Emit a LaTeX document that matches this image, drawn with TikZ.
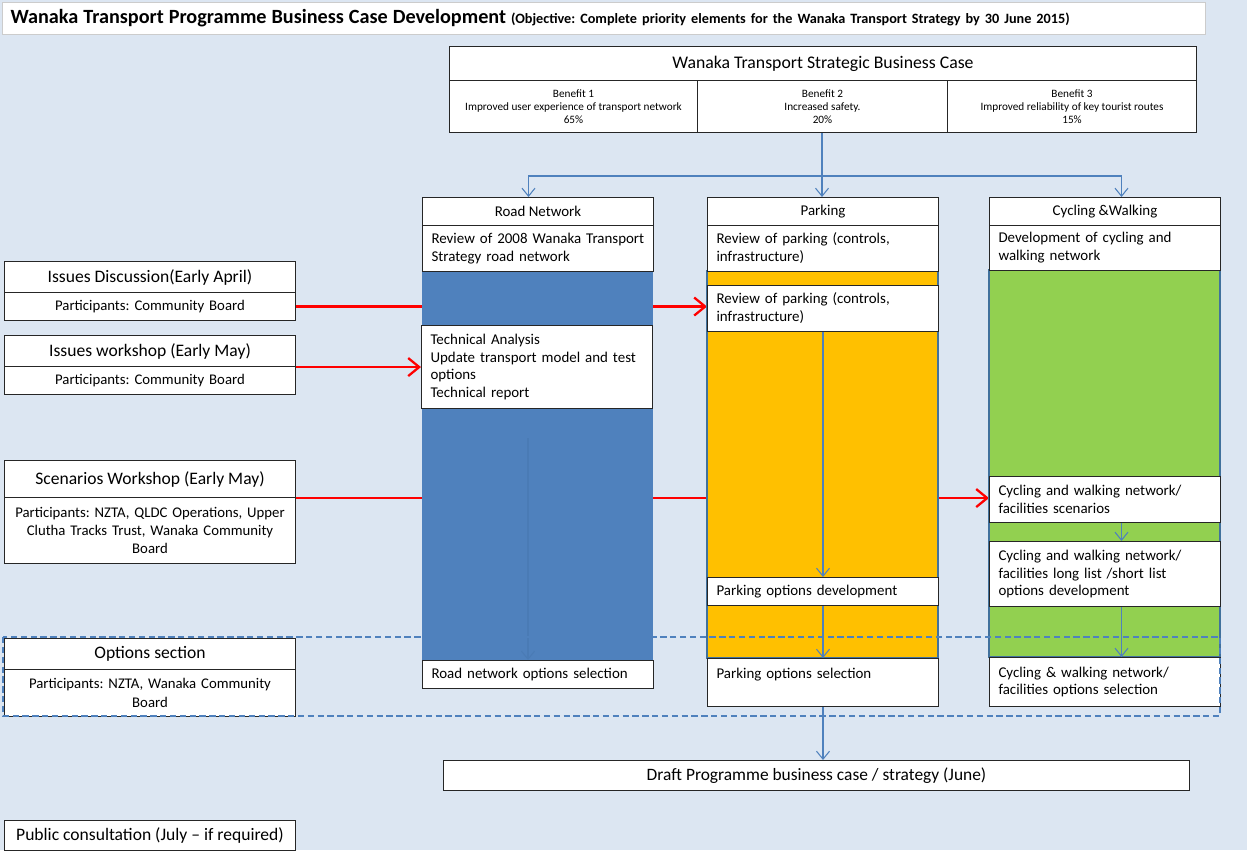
\documentclass[tikz,border=0pt]{standalone}
\usepackage{fontspec}
\setmainfont{Carlito}
\usetikzlibrary{arrows.meta}
\definecolor{bgblue}{HTML}{DCE6F2}
\definecolor{colblue}{HTML}{4F81BD}
\definecolor{colorange}{HTML}{FFC000}
\definecolor{colgreen}{HTML}{92D050}
\definecolor{coledge}{HTML}{41719C}
\definecolor{faintblue}{HTML}{4A7BB5}
\pgfdeclarelayer{back}
\pgfdeclarelayer{mid}
\pgfsetlayers{back,mid,main}
\frenchspacing

\begin{document}
\begin{tikzpicture}[
  x=0.02cm, y=-0.02cm,
  cell/.style={draw=black!85, line width=0.6pt, fill=white, anchor=north west,
               inner sep=0pt, align=center, font=\fontsize{8.5}{10.2}\selectfont},
  sidehead/.style={cell, minimum width=5.82cm, minimum height=0.62cm,
               font=\fontsize{10}{12}\selectfont},
  sidepart/.style={cell, minimum width=5.82cm, text width=5.6cm,
               font=\fontsize{8.4}{10.4}\selectfont},
  colhead/.style={cell, minimum width=4.62cm, minimum height=0.56cm},
  coltext/.style={cell, inner xsep=0.18cm, text width=4.26cm, align=left},
  benefit/.style={cell, minimum height=1.04cm, font=\fontsize{6.4}{7.4}\selectfont},
  colfill/.style={draw=coledge, line width=0.8pt},
  link/.style={draw=colblue, line width=0.6pt, -{Straight Barb[length=1.6mm, width=2.6mm]}},
  feed/.style={draw=red, line width=1.3pt, -{Straight Barb[length=2.2mm, width=3.6mm]}}
 ]
\useasboundingbox (0,0) rectangle (1247,850);
\begin{pgfonlayer}{back}
\fill[bgblue] (0,0) rectangle (1247,850);
\end{pgfonlayer}

% title
\node[cell, draw=black!20, minimum width=24.06cm, minimum height=0.64cm, inner xsep=0.16cm,
      text width=23.74cm, align=left] (titlebar) at (2,2)
  {\fontsize{11.5}{13}\selectfont\textbf{Wanaka Transport Programme Business Case Development}
   {\fontsize{8.1}{9}\selectfont\textbf{(Objective: Complete priority elements for the Wanaka Transport Strategy by 30 June 2015)}}};

% strategic business case
\node[cell, minimum width=14.94cm, minimum height=0.68cm, font=\fontsize{10.1}{12}\selectfont]
  (sbc) at (449,46) {Wanaka Transport Strategic Business Case};
\node[benefit, minimum width=4.96cm] (ben1) at (449,80)
  {Benefit 1\\Improved user experience of transport network\\65\%};
\node[benefit, minimum width=5.0cm] (ben2) at (697,80)
  {Benefit 2\\Increased safety.\\20\%};
\node[benefit, minimum width=4.98cm] (ben3) at (947,80)
  {Benefit 3\\Improved reliability of key tourist routes\\15\%};

% column fills
\begin{pgfonlayer}{mid}
\fill[colblue] (422,271) rectangle (653,660);
\filldraw[colfill, fill=colorange] (707,271) rectangle (938,658);
\filldraw[colfill, fill=colgreen] (989,270) rectangle (1220,657);
\end{pgfonlayer}

% road network
\node[colhead] (rnhead) at (422,197) {Road Network};
\node[coltext, minimum height=0.92cm] (rnrev) at (422,225)
  {Review of 2008 Wanaka Transport\\Strategy road network};
\node[coltext, minimum height=1.66cm] (tech) at (421,325)
  {Technical Analysis\\Update transport model and test\\options\\Technical report};
\node[coltext, minimum height=0.56cm] (rnsel) at (422,660) {Road network options selection};

% parking
\node[colhead] (pkhead) at (707,197) {Parking};
\node[coltext, minimum height=0.92cm] (pkrev) at (707,225)
  {Review of parking (controls,\\infrastructure)};
\node[coltext, minimum height=0.92cm] (pkrev2) at (707,285)
  {Review of parking (controls,\\infrastructure)};
\node[coltext, minimum height=0.56cm] (pkdev) at (707,577) {Parking options development};
\node[coltext, minimum height=0.96cm] (pksel) at (707,658) {Parking options selection\\\mbox{}};

% cycling and walking
\node[colhead] (cwhead) at (989,197) {Cycling \&Walking};
\node[coltext, minimum height=0.9cm] (cwdev) at (989,225)
  {Development of cycling and\\walking network};
\node[coltext, minimum height=0.92cm] (cwscen) at (989,476)
  {Cycling and walking network/\\facilities scenarios};
\node[coltext, minimum height=1.3cm] (cwlong) at (989,541)
  {Cycling and walking network/\\facilities long list /short list\\options development};
\node[coltext, minimum height=0.98cm] (cwsel) at (989,657)
  {Cycling \& walking network/\\facilities options selection};

% participants
\node[sidehead] (iss1h) at (4,261) {Issues Discussion(Early April)};
\node[sidepart, minimum height=0.56cm] (iss1p) at (4,292) {Participants: Community Board};
\node[sidehead] (iss2h) at (4,335) {Issues workshop (Early May)};
\node[sidepart, minimum height=0.56cm] (iss2p) at (4,366) {Participants: Community Board};
\node[sidehead, minimum height=0.74cm] (scnh) at (4,460) {Scenarios Workshop (Early May)};
\node[sidepart, minimum height=1.32cm] (scnp) at (4,497)
  {Participants: NZTA, QLDC Operations, Upper\\Clutha Tracks Trust, Wanaka Community\\Board};
\node[sidehead] (opth) at (4,638) {Options section};
\node[sidepart, minimum height=0.94cm] (optp) at (4,669)
  {Participants: NZTA, Wanaka Community\\Board};
\node[sidehead, minimum height=0.6cm] (pub) at (4,820) {Public consultation (July -- if required)};

% draft
\node[cell, minimum width=14.92cm, minimum height=0.6cm, font=\fontsize{9.9}{11.5}\selectfont]
  (draft) at (443,760) {Draft Programme business case / strategy (June)};

% connectors
\coordinate (split) at (822,176);
\draw[colblue, line width=0.6pt] (ben2.south -| split) -- (split);
\draw[link] (split) -| ([xshift=-0.19cm]rnhead.north);
\draw[link] (split) -- (split |- pkhead.north);
\draw[link] (split) -| ([xshift=0.33cm]cwhead.north);
\draw[link] (pkrev2.south) -- (pkdev.north);
\draw[link] (pkdev.south) -- (pksel.north);
\draw[link] (pksel.south) -- (pksel.south |- draft.north);
\draw[link] ([xshift=0.33cm]cwscen.south) -- ([xshift=0.33cm]cwlong.north);
\draw[link] ([xshift=0.33cm]cwlong.south) -- ([xshift=0.33cm]cwsel.north);
\coordinate (rnfaint) at (528,438);
\draw[link, draw=faintblue] (rnfaint) -- (rnfaint |- rnsel.north);

\begin{pgfonlayer}{back}
\draw[feed] (iss1p.east) -- (iss1p.east -| pkrev2.west);
\draw[feed] (iss2h.south east) -- (iss2h.south east -| tech.west);
\draw[feed] (scnh.south east) -- (scnh.south east -| cwscen.west);
\end{pgfonlayer}

% options section frame
\draw[colblue, line width=1.6pt, dash pattern=on 3.6pt off 2pt] (3,637) rectangle (1220,716);
\end{tikzpicture}
\end{document}
